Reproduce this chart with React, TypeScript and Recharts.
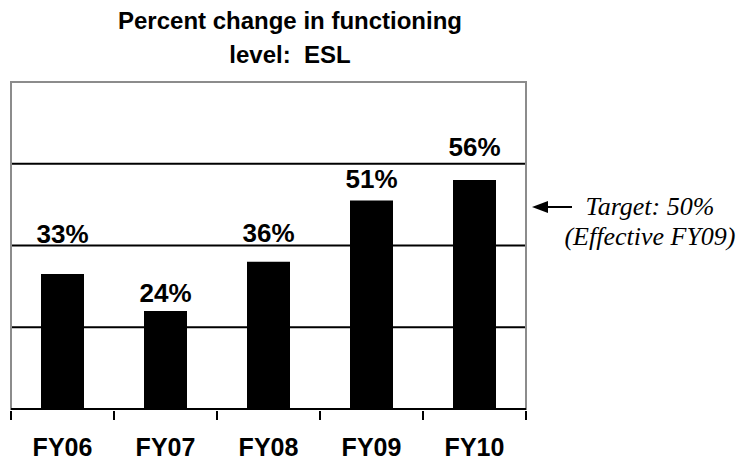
import React from 'react';
import { BarChart, Bar, XAxis, YAxis, CartesianGrid, LabelList, ReferenceArea } from 'recharts';

const categories = ['FY06', 'FY07', 'FY08', 'FY09', 'FY10'];
const values = [33, 24, 36, 51, 56];
const valueLabels = ['33%', '24%', '36%', '51%', '56%'];
const yTicks = [0, 20, 40, 60, 80];
const titleLines = ['Percent change in functioning', 'level:  ESL'];
const noteLines = ['Target: 50%', '(Effective FY09)'];

// styling: per-label gap above its bar (as placed in the original)
const LABEL_GAP = [31, 9, 20, 13, 24];

const data = categories.map((c, i) => ({ name: c, value: values[i], label: valueLabels[i] }));

const SANS = '"Liberation Sans", Arial, Helvetica, sans-serif';
const SERIF = '"Liberation Serif", "Times New Roman", serif';

const renderLabel = (props: any) => {
  const { x, y, width, index } = props;
  const i = typeof index === 'number' ? index : values.indexOf(props.value);
  return (
    <text
      x={Number(x) + Number(width) / 2}
      y={Number(y) - LABEL_GAP[i]}
      textAnchor="middle"
      fontFamily={SANS}
      fontWeight="bold"
      fontSize={26}
      fill="#000"
    >
      {valueLabels[i]}
    </text>
  );
};

const CategoryTick = (props: any) => {
  const { x, y, payload, index } = props;
  const half = Number(payload?.offset ?? 0);
  const last = index === categories.length - 1;
  return (
    <g>
      <line x1={x - half} x2={x - half} y1={y} y2={y + 9} stroke="#000" strokeWidth={2} />
      {last && <line x1={x + half} x2={x + half} y1={y} y2={y + 9} stroke="#000" strokeWidth={2} />}
      <text
        x={x}
        y={y + 45}
        textAnchor="middle"
        fontFamily={SANS}
        fontWeight="bold"
        fontSize={25}
        fill="#000"
      >
        {payload.value}
      </text>
    </g>
  );
};

export default function App() {
  return (
    <div style={{ position: 'absolute', left: 0, top: 0, width: 742, height: 460, background: '#fff' }}>
      <div
        style={{
          position: 'absolute',
          left: 0,
          top: 4,
          width: 580,
          textAlign: 'center',
          fontFamily: SANS,
          fontWeight: 'bold',
          fontSize: 24,
          lineHeight: '34px',
          color: '#000',
          whiteSpace: 'pre',
        }}
      >
        {titleLines.map((t) => (
          <div key={t}>{t}</div>
        ))}
      </div>
      <BarChart
        width={742}
        height={460}
        data={data}
        margin={{ top: 82, right: 216, bottom: 0, left: 11 }}
        style={{ position: 'absolute', left: 0, top: 0 }}
      >
        <CartesianGrid horizontal vertical={false} stroke="#000" strokeWidth={2} />
        <ReferenceArea
          x1={categories[0]}
          x2={categories[categories.length - 1]}
          y1={yTicks[0]}
          y2={yTicks[yTicks.length - 1]}
          fill="#fff"
          fillOpacity={0}
          stroke="#8c8c8c"
          strokeWidth={2}
        />
        <XAxis
          dataKey="name"
          height={51}
          axisLine={{ stroke: '#000', strokeWidth: 2 }}
          tickLine={false}
          tickSize={0}
          interval={0}
          tick={<CategoryTick />}
        />
        <YAxis hide domain={[yTicks[0], yTicks[yTicks.length - 1]]} ticks={yTicks.slice(0, -1)} />
        <Bar dataKey="value" fill="#000" barSize={43} isAnimationActive={false}>
          <LabelList dataKey="label" content={renderLabel} />
        </Bar>
      </BarChart>
      <svg style={{ position: 'absolute', left: 0, top: 0 }} width={742} height={460} pointerEvents="none">
        <line x1={546} y1={207} x2={572} y2={207} stroke="#000" strokeWidth={2} />
        <polygon points="532,207 548,201 548,213" fill="#000" />
      </svg>
      {noteLines.map((t, i) => (
        <div
          key={t}
          style={{
            position: 'absolute',
            left: 560,
            width: 180,
            top: 192 + i * 30,
            textAlign: 'center',
            fontFamily: SERIF,
            fontStyle: 'italic',
            fontSize: 26,
            lineHeight: '30px',
            color: '#000',
            whiteSpace: 'pre',
          }}
        >
          {t}
        </div>
      ))}
    </div>
  );
}
